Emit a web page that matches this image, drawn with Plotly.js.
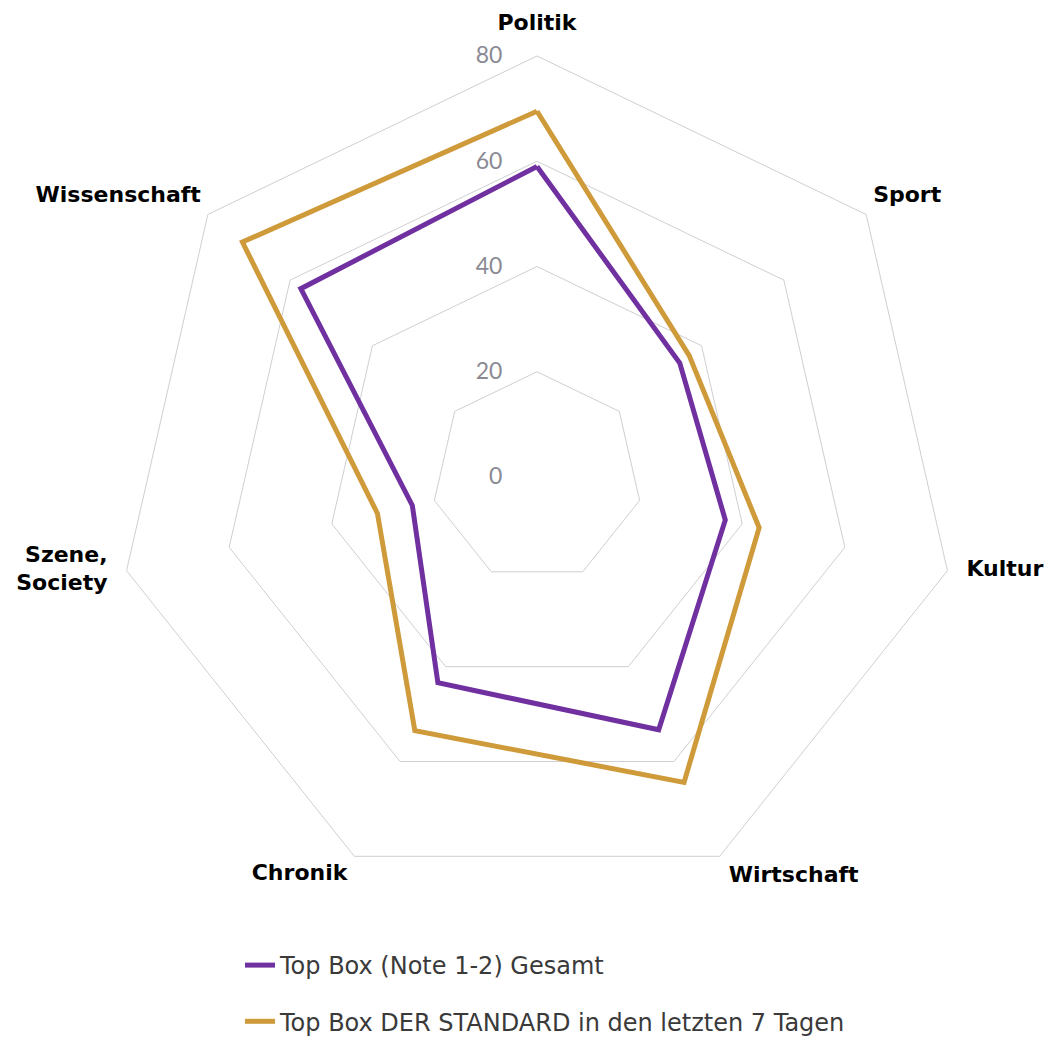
<!DOCTYPE html>
<html>
<head>
<meta charset="utf-8">
<script src="https://cdn.plot.ly/plotly-3.0.1.min.js"></script>
<style>html,body{margin:0;padding:0;background:#fff;}#chart{width:1048px;height:1038px;}</style>
</head>
<body>
<div id="chart"></div>
<script>
const categories = ["Politik", "Sport", "Kultur", "Wirtschaft", "Chronik", "Szene,<br>Society", "Wissenschaft"];
const seriesNames = ["Top Box (Note 1-2) Gesamt", "Top Box DER STANDARD in den letzten 7 Tagen"];
const gesamt = [59, 34.7, 36.7, 53.3, 43.4, 24.3, 57.4];
const derStandard = [69.5, 37, 43.3, 64.4, 53.5, 31.1, 71.6];
const radialTicks = [0, 20, 40, 60, 80];
const colors = ["#7030A0", "#CF9A3A"];

const radialMax = radialTicks[radialTicks.length - 1];
function closed(a) { return a.concat([a[0]]); }

const traces = [gesamt, derStandard].map((vals, i) => ({
  type: "scatterpolar",
  r: closed(vals),
  theta: closed(categories),
  mode: "lines",
  name: seriesNames[i],
  legendgroup: "g" + i,
  line: { color: colors[i], width: 5, shape: "linear" },
  hoverinfo: "skip"
}));

// category labels placed at the outer ring vertices
traces.push({
  type: "scatterpolar",
  r: categories.map(() => radialMax),
  theta: categories,
  mode: "markers+text",
  text: categories,
  textposition: ["top center", "top right", "middle right", "bottom right", "bottom left", "middle left", "top left"],
  marker: { size: [31, 9.6, 28.8, 12.8, 9.6, 28.8, 9.6], opacity: 0, color: "#000" },
  textfont: { family: "DejaVu Sans", size: 22, color: "#000000", weight: "bold" },
  cliponaxis: false,
  showlegend: false,
  hoverinfo: "skip"
});

const layout = {
  width: 1048,
  height: 1038,
  margin: { l: 0, r: 0, t: 0, b: 0, autoexpand: false },
  paper_bgcolor: "#ffffff",
  showlegend: true,
  legend: {
    x: 240 / 1048, xanchor: "left",
    y: (1038 - 943) / 1038, yanchor: "top",
    orientation: "v",
    traceorder: "grouped",
    tracegroupgap: 22,
    itemwidth: 30,
    font: { family: "DejaVu Sans", size: 24, color: "#3a3a3a" },
    bgcolor: "rgba(0,0,0,0)"
  },
  polar: {
    domain: { x: [116 / 1048, 958 / 1048], y: [(1038 - 898) / 1038, (1038 - 56) / 1038] },
    gridshape: "linear",
    bgcolor: "rgba(0,0,0,0)",
    radialaxis: {
      range: [0, radialMax],
      tickvals: radialTicks,
      ticktext: radialTicks.map(String),
      angle: 90,
      tickangle: 90,
      side: "counterclockwise",
      showline: false,
      ticks: "outside",
      ticklen: 26,
      tickcolor: "rgba(0,0,0,0)",
      gridcolor: "#cfcfd3",
      gridwidth: 1,
      tickfont: { family: "Lato", size: 23, color: "#8a8a94", weight: 400 }
    },
    angularaxis: {
      rotation: 90,
      direction: "clockwise",
      showgrid: false,
      showline: true,
      showticklabels: false,
      linecolor: "#cfcfd3",
      linewidth: 1,
      ticks: ""
    }
  }
};

Plotly.newPlot("chart", traces, layout, { displayModeBar: false, staticPlot: true });
</script>
</body>
</html>
